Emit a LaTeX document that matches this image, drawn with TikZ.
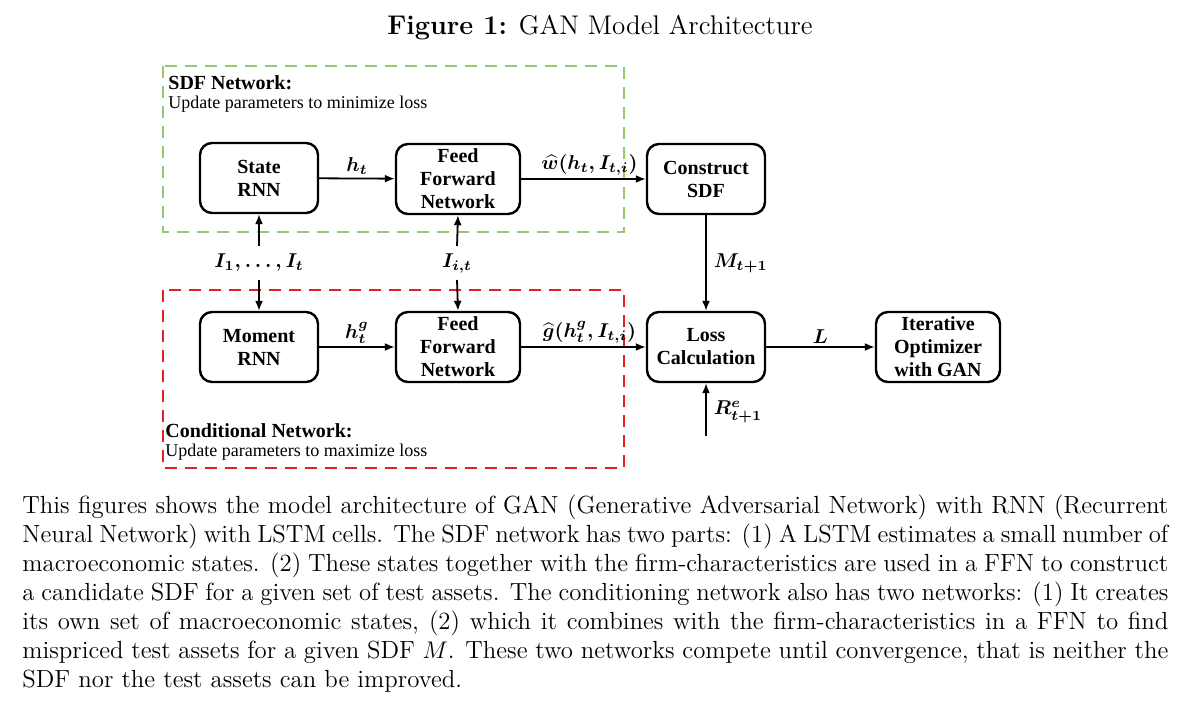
\documentclass[tikz,border=0pt]{standalone}
\usepackage{fontspec}
\usepackage{amsmath,bm}
\newfontfamily\tms{Liberation Serif}
\usetikzlibrary{arrows.meta}
\begin{document}
\begin{tikzpicture}[x=0.5pt,y=-0.5pt,
  box/.style={draw,line width=1.2pt,rounded corners=6pt,minimum width=59pt,minimum height=35pt,inner sep=1pt,align=center,font=\tms\bfseries\fontsize{10}{11.5}\selectfont},
  arr/.style={line width=0.9pt,-{Latex[length=5pt,width=4pt]}},
  lbl/.style={font=\fontsize{10}{11}\selectfont\boldmath,inner sep=1.5pt},
  txt/.style={font=\tms\fontsize{9}{10}\selectfont,anchor=west,inner sep=0pt}]
\useasboundingbox (0,0) rectangle (1200,706);
\node (title) at (600,28) {\fontsize{13.5}{15}\selectfont\textbf{Figure 1:} GAN Model Architecture};
\draw[dashed,dash pattern=on 6pt off 4pt,line width=1pt,color={rgb,255:red,150;green,200;blue,110}] (163,66) rectangle (624,232);
\draw[dashed,dash pattern=on 6pt off 4pt,line width=1pt,color={rgb,255:red,230;green,30;blue,30}] (163,290) rectangle (624,468);
\node[txt,font=\tms\bfseries\fontsize{10}{11}\selectfont] (sdft) at (168,83) {SDF Network:};
\node[txt] (sdfu) at (168,104) {Update parameters to minimize loss};
\node[txt,font=\tms\bfseries\fontsize{10}{11}\selectfont] (cnt) at (165,431) {Conditional Network:};
\node[txt] (cnu) at (165,452) {Update parameters to maximize loss};
\node[box] (srnn) at (259,178) {State\\RNN};
\node[box,minimum width=62pt] (ffa) at (458,179) {Feed\\Forward\\Network};
\node[box] (csdf) at (706,179) {Construct\\SDF};
\node[box] (mrnn) at (259,347) {Moment\\RNN};
\node[box,minimum width=62pt] (ffb) at (458,347) {Feed\\Forward\\Network};
\node[box] (loss) at (706,347) {Loss\\Calculation};
\node[box,minimum width=62pt] (iter) at (938,347) {Iterative\\Optimizer\\with GAN};
\coordinate (i1) at (259,246); \coordinate (i2) at (259,280);
\coordinate (j1) at (457,246); \coordinate (j2) at (457,280);
\coordinate (r) at (706,436);
\draw[arr] (srnn) -- (ffa) node[lbl,midway,above] {$h_t$};
\draw[arr] (ffa) -- (csdf) node[lbl,midway,above,xshift=3pt] {$\widehat{w}(h_t,I_{t,i})$};
\draw[arr] (mrnn) -- (ffb) node[lbl,midway,above] {$h_t^g$};
\draw[arr] (ffb) -- (loss) node[lbl,midway,above,xshift=3pt] {$\widehat{g}(h_t^g,I_{t,i})$};
\draw[arr] (loss) -- (iter) node[lbl,midway,above] {$L$};
\draw[arr] (csdf) -- (loss) node[lbl,midway,right,xshift=2pt] {$M_{t+1}$};
\draw[arr] (r) -- (loss.south) node[lbl,pos=0.45,right,xshift=2pt] {$R_{t+1}^e$};
\draw[arr] (i1) -- (srnn.south);
\draw[arr] (i2) -- (mrnn.north);
\draw[arr] (j1) -- (ffa.south);
\draw[arr] (j2) -- (ffb.north);
\node[lbl] (il) at (259,263) {$I_1,\dots,I_t$};
\node[lbl] (jl) at (457,263) {$I_{i,t}$};
\node[anchor=north west,inner sep=0pt,text width=573pt,align=justify,font=\fontsize{12.4}{14.5}\selectfont] (cap) at (22,494) {This figures shows the model architecture of GAN (Generative Adversarial Network) with RNN (Recurrent Neural Network) with LSTM cells. The SDF network has two parts: (1) A LSTM estimates a small number of macroeconomic states. (2) These states together with the firm-characteristics are used in a FFN to construct a candidate SDF for a given set of test assets. The conditioning network also has two networks: (1) It creates its own set of macroeconomic states, (2) which it combines with the firm-characteristics in a FFN to find mispriced test assets for a given SDF $M$. These two networks compete until convergence, that is neither the SDF nor the test assets can be improved.};
\end{tikzpicture}
\end{document}
